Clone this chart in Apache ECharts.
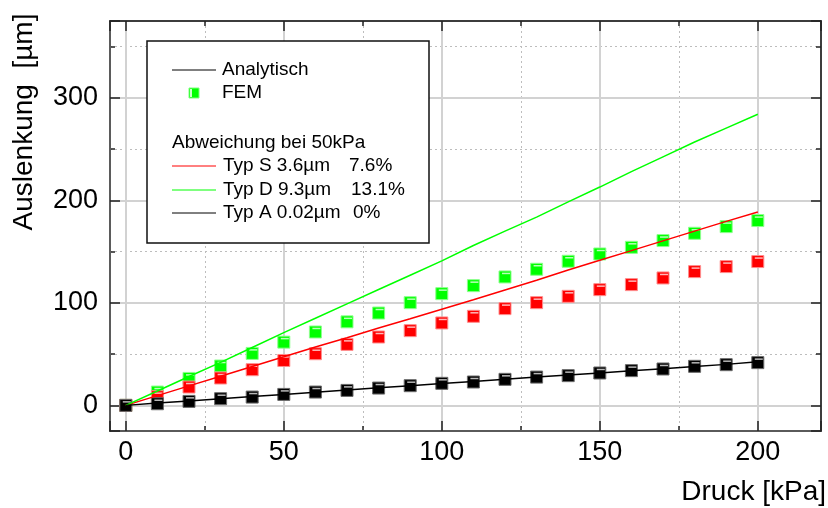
<!DOCTYPE html>
<html>
<head>
<meta charset="utf-8">
<script src="https://cdn.jsdelivr.net/npm/echarts@6/dist/echarts.min.js"></script>
<style>
  html, body { margin: 0; padding: 0; background: #fff; }
  #chart { width: 828px; height: 508px; }
</style>
</head>
<body>
<div id="chart"></div>
<script>
// Druck in kPa
const pressure = [0, 10, 20, 30, 40, 50, 60, 70, 80, 90, 100, 110, 120, 130, 140, 150, 160, 170, 180, 190, 200];

// Analytische Auslenkung in µm
const analytTypS = [0, 9.5, 19, 28.5, 38, 47.4, 57, 66, 75.5, 84.5, 93.7, 103, 112.5, 122, 132, 141.6, 151, 160.5, 170, 179.5, 188.7];
const analytTypD = [0, 14, 28.2, 42, 56.5, 71, 85, 99, 113, 127, 141, 156, 170, 183.7, 198.5, 213, 228, 242.5, 257, 270.5, 284];
const analytTypA = [0, 2.2, 4.3, 6.4, 8.6, 10.7, 12.9, 15, 17.1, 19.2, 21.4, 23.4, 25.5, 27.6, 29.6, 31.7, 33.8, 35.8, 37.9, 40, 42.5];

// FEM-Ergebnisse in µm
const femTypS = [0, 8.5, 17.9, 26.7, 34.8, 43.8, 50.4, 59.5, 66.7, 72.9, 80.4, 86.9, 94.4, 100.2, 106.4, 112.9, 117.8, 124.3, 130.5, 135.4, 140.3];
const femTypD = [0, 13, 26.3, 38.4, 50.7, 61.7, 71.6, 81.5, 90.1, 100.2, 109, 116.8, 125.3, 132.8, 140.6, 147.7, 154.2, 160.8, 167.9, 174.4, 180.3];
const femTypA = [0, 1.6, 3.9, 6.5, 8.1, 10.7, 13, 14.6, 16.9, 19.2, 21.5, 22.8, 25.4, 27.6, 29, 31.6, 33.9, 35.5, 38.1, 39.7, 41.7];

// Achsenbeschriftung
const xTickLabels = ['0', '50', '100', '150', '200'];
const yTickLabels = ['0', '100', '200', '300'];
const xTitle = 'Druck [kPa]';
const yTitle = 'Auslenkung  [µm]';

// Legendentexte
const legendAnalytic = 'Analytisch';
const legendFem = 'FEM';
const legendHeader = 'Abweichung bei 50kPa';
const legendTypes = ['Typ S 3.6µm', 'Typ D 9.3µm', 'Typ A 0.02µm'];
const legendPercents = ['7.6%', '13.1%', '0%'];

const FONT = '"Liberation Sans", Arial, sans-serif';
const RED = '#ff0000', GREEN = '#00ff00', BLACK = '#000000';

const pairs = (ys) => pressure.map((x, i) => [x, ys[i]]);

function xAxisDef(position, step, tickLen, withLabels, splitStyle, z) {
  return {
    type: 'value', position, min: -5, max: 220,
    minInterval: step, maxInterval: step, splitNumber: Math.round(225 / step),
    z,
    axisLine: { show: true, onZero: false, lineStyle: { color: '#333', width: 1.5 } },
    axisTick: { show: true, inside: true, length: tickLen, lineStyle: { color: '#222', width: 1.5 } },
    axisLabel: withLabels ? {
      show: true, margin: 8, fontSize: 27, color: '#000', fontFamily: FONT,
      formatter: (v) => xTickLabels.includes(String(v)) ? String(v) : ''
    } : { show: false },
    splitLine: splitStyle ? { show: true, lineStyle: splitStyle } : { show: false }
  };
}

function yAxisDef(position, step, tickLen, withLabels, splitStyle, z) {
  return {
    type: 'value', position, min: -25, max: 375,
    minInterval: step, maxInterval: step, splitNumber: Math.round(400 / step),
    z,
    axisLine: { show: true, onZero: false, lineStyle: { color: '#333', width: 1.5 } },
    axisTick: { show: true, inside: true, length: tickLen, lineStyle: { color: '#222', width: 1.5 } },
    axisLabel: withLabels ? {
      show: true, margin: 12, fontSize: 27, color: '#000', fontFamily: FONT,
      formatter: (v) => yTickLabels.includes(String(v)) ? String(v) : ''
    } : { show: false },
    splitLine: splitStyle ? { show: true, lineStyle: splitStyle } : { show: false }
  };
}

const majorGrid = { color: '#d2d2d2', width: 2, type: 'solid' };
const minorGrid = { color: '#bdbdbd', width: 1, type: [2, 3] };

function femSeries(ys, color, border, z) {
  return [{
    type: 'scatter', data: pairs(ys), symbol: 'rect', symbolSize: 12, z,
    itemStyle: { color, borderColor: border, borderWidth: 1, opacity: 1 },
    silent: true
  }, {
    // heller Glanzstreifen an der Oberkante der Marker
    type: 'scatter', data: pairs(ys), symbol: 'rect', symbolSize: [8, 1.5], symbolOffset: [1, -3.5], z: z + 0.5,
    itemStyle: { color: 'rgba(255,255,255,0.9)' }, silent: true
  }];
}

function lineSeries(ys, color, z) {
  return {
    type: 'line', data: pairs(ys), showSymbol: false, symbol: 'none', z,
    lineStyle: { color, width: 1.5 }, silent: true
  };
}

const legendRows = [166, 190, 213];
const legendColors = [RED, GREEN, BLACK];
const legendFontSize = 19;
const legendPercentX = [349, 351, 353];

const graphic = [
  { type: 'rect', shape: { x: 147, y: 41, width: 282, height: 202 }, style: { fill: '#fff', stroke: '#111', lineWidth: 1.5 }, z: 100 },
  { type: 'line', shape: { x1: 172, y1: 70, x2: 216, y2: 70 }, style: { stroke: '#000', lineWidth: 1 }, z: 101 },
  { type: 'text', x: 222, y: 70, z: 101, style: { text: legendAnalytic, font: legendFontSize + 'px ' + FONT, fill: '#000', verticalAlign: 'middle' } },
  { type: 'rect', shape: { x: 189, y: 88, width: 10, height: 10 }, style: { fill: GREEN, stroke: '#7dff7d', lineWidth: 1 }, z: 101 },
  { type: 'rect', shape: { x: 190, y: 89, width: 2, height: 8 }, style: { fill: 'rgba(255,255,255,0.8)' }, z: 102 },
  { type: 'text', x: 222, y: 93, z: 101, style: { text: legendFem, font: legendFontSize + 'px ' + FONT, fill: '#000', verticalAlign: 'middle' } },
  { type: 'text', x: 172, y: 143, z: 101, style: { text: legendHeader, font: legendFontSize + 'px ' + FONT, fill: '#000', verticalAlign: 'middle' } },
  // Drehung nach links: Text von unten nach oben
  { type: 'text', x: 24, y: 122, rotation: Math.PI / 2, z: 101, style: { text: yTitle, font: '28px ' + FONT, fill: '#000', align: 'center', verticalAlign: 'middle' } },
  { type: 'text', x: 826, y: 492, z: 101, style: { text: xTitle, font: '28px ' + FONT, fill: '#000', align: 'right', verticalAlign: 'middle' } }
];
legendRows.forEach((y, i) => {
  graphic.push({ type: 'line', shape: { x1: 172, y1: y, x2: 216, y2: y }, style: { stroke: legendColors[i], lineWidth: 1 }, z: 101 });
  graphic.push({ type: 'text', x: 223, y, z: 101, style: { text: legendTypes[i], font: legendFontSize + 'px ' + FONT, fill: '#000', verticalAlign: 'middle' } });
  graphic.push({ type: 'text', x: legendPercentX[i], y, z: 101, style: { text: legendPercents[i], font: legendFontSize + 'px ' + FONT, fill: '#000', verticalAlign: 'middle' } });
});

const chart = echarts.init(document.getElementById('chart'), null, { renderer: 'canvas' });
chart.setOption({
  animation: false,
  backgroundColor: '#fff',
  grid: { left: 110, top: 21, right: 7, bottom: 77, containLabel: false },
  xAxis: [
    xAxisDef('bottom', 50, 10, true, majorGrid, 1),
    xAxisDef('bottom', 25, 5, false, minorGrid, 0),
    xAxisDef('top', 50, 10, false, null, 1),
    xAxisDef('top', 25, 5, false, null, 1)
  ],
  yAxis: [
    yAxisDef('left', 100, 10, true, majorGrid, 1),
    yAxisDef('left', 50, 5, false, minorGrid, 0),
    yAxisDef('right', 100, 10, false, null, 1),
    yAxisDef('right', 50, 5, false, null, 1)
  ],
  series: [
    ...femSeries(femTypD, GREEN, '#8cff8c', 3),
    ...femSeries(femTypS, RED, '#ff8c8c', 5),
    ...femSeries(femTypA, BLACK, '#6a6a6a', 7),
    lineSeries(analytTypS, RED, 10),
    lineSeries(analytTypD, GREEN, 10),
    lineSeries(analytTypA, BLACK, 10)
  ],
  graphic
});
</script>
</body>
</html>
